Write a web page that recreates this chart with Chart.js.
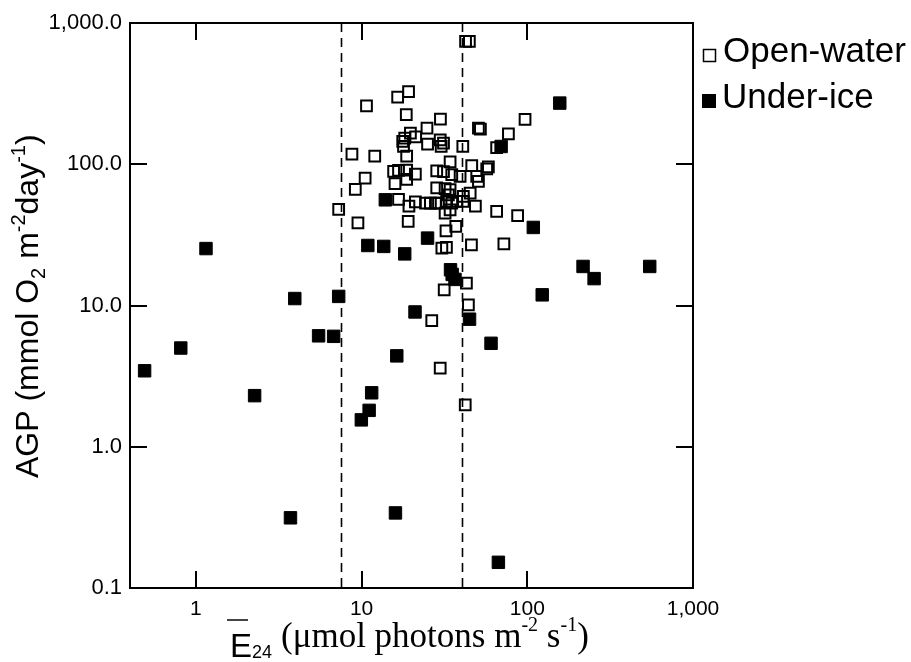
<!DOCTYPE html>
<html>
<head>
<meta charset="utf-8">
<script src="https://cdn.jsdelivr.net/npm/chart.js@4.4.0/dist/chart.umd.min.js"></script>
<style>
  html, body { margin: 0; padding: 0; background: #fff; }
</style>
</head>
<body>
<canvas id="agp" width="911" height="662"></canvas>
<script>
// E24 (µmol photons m-2 s-1) vs AGP (mmol O2 m-2 day-1)
const OPEN_E24 = [42.4, 44.7, 19.2, 16.5, 10.7, 18.6, 29.9, 24.8, 50.7, 52.1, 96.9, 76.9, 65.3, 19.7, 18.2, 17.7,
  17.9, 21.2, 25.0, 29.8, 31.2, 30.2, 40.8, 8.74, 12.0, 18.7, 34.2, 10.5, 9.16, 15.6, 16.7, 18.7, 21.1, 18.7,
  15.9, 28.4, 31.2, 35.0, 39.3, 46.2, 49.5, 56.9, 58.2, 50.7, 28.4, 31.9, 34.2, 33.4, 41.1, 45.2, 16.7, 19.3,
  21.1, 24.3, 26.0, 27.9, 29.1, 32.6, 35.0, 37.5, 41.1, 48.6, 31.9, 34.2, 65.3, 87.4, 7.27, 9.50, 19.1, 32.3,
  37.0, 30.5, 32.5, 46.0, 72.2, 31.5, 42.9, 44.1, 26.5, 29.8, 42.2];
const OPEN_AGP = [740, 740, 327, 299, 259, 225, 209, 180, 180, 177, 208, 164, 131, 166, 153, 145,
  134, 156, 139, 149, 141, 134, 134, 118, 114, 114, 104, 79.8, 66.3, 88.9, 90.4, 90.7, 85.0, 78.3,
  72.8, 89.9, 88.5, 84.3, 82.0, 97.6, 82.0, 92.9, 96.0, 75.5, 67.9, 67.3, 66.0, 60.8, 59.2, 62.5, 56.5, 50.6,
  54.1, 53.0, 53.1, 53.1, 53.1, 54.5, 53.1, 54.5, 54.5, 50.6, 45.1, 47.6, 46.3, 43.2, 47.9, 38.4, 39.4, 33.8,
  36.3, 25.5, 25.8, 26.9, 27.3, 12.9, 14.4, 10.1, 7.80, 3.61, 1.98];

const ICE_E24 = [0.49, 0.81, 1.15, 2.26, 3.95, 7.27, 5.5, 6.78, 3.72, 10.9, 13.6, 18.2, 16.3, 11.5, 11.1, 9.96,
  21.0, 13.9, 25.0, 34.4, 36.6, 35.2, 108.7, 69.5, 157, 217, 253, 123, 548, 44.8, 60.4, 16.0, 66.9];
const ICE_AGP = [3.45, 5.0, 25.3, 2.3, 11.2, 11.6, 6.1, 6.05, 0.314, 26.6, 26.2, 23.2, 4.4, 2.41, 1.81, 1.55,
  9.0, 56, 30, 17.9, 15.3, 16.6, 35.7, 133.6, 271, 18.9, 15.5, 11.9, 18.9, 8.0, 5.4, 0.34, 0.152];

const X_TICKS = [1, 10, 100, 1000];
const X_TICK_LABELS = ['1', '10', '100', '1,000'];
const Y_TICKS = [0.1, 1, 10, 100, 1000];
const Y_TICK_LABELS = ['0.1', '1.0', '10.0', '100.0', '1,000.0'];
const DASH_E24 = [7.5, 40.5];
const SERIES_NAMES = ['Open-water', 'Under-ice'];

const SANS = '"Liberation Sans", Arial, sans-serif';
const SERIF = '"Liberation Serif", "Times New Roman", serif';
const TICK = 17;

const pts = (xs, ys) => xs.map((x, i) => ({ x, y: ys[i] }));

// outer box + inward tick marks on all four sides
const frame = {
  id: 'frame',
  afterDatasetsDraw(chart) {
    const { ctx, chartArea: a, scales: { x, y } } = chart;
    ctx.save();
    ctx.strokeStyle = '#000';
    ctx.lineWidth = 2;
    ctx.strokeRect(a.left, a.top, a.width, a.height);
    ctx.beginPath();
    X_TICKS.forEach(v => {
      const px = Math.round(x.getPixelForValue(v));
      if (px <= a.left + 1 || px >= a.right - 1) return;
      ctx.moveTo(px, a.bottom); ctx.lineTo(px, a.bottom - TICK);
      ctx.moveTo(px, a.top); ctx.lineTo(px, a.top + TICK);
    });
    Y_TICKS.forEach(v => {
      const py = Math.round(y.getPixelForValue(v));
      if (py <= a.top + 1 || py >= a.bottom - 1) return;
      ctx.moveTo(a.left, py); ctx.lineTo(a.left + TICK, py);
      ctx.moveTo(a.right, py); ctx.lineTo(a.right - TICK, py);
    });
    ctx.stroke();
    ctx.restore();
  }
};

const dashes = {
  id: 'dashes',
  beforeDatasetsDraw(chart) {
    const { ctx, chartArea: a, scales: { x } } = chart;
    ctx.save();
    ctx.strokeStyle = '#000';
    ctx.lineWidth = 1.6;
    ctx.setLineDash([9, 6]);
    DASH_E24.forEach(v => {
      const px = Math.round(x.getPixelForValue(v)) + 0.5;
      ctx.beginPath();
      ctx.moveTo(px, a.top);
      ctx.lineTo(px, a.bottom);
      ctx.stroke();
    });
    ctx.restore();
  }
};

// draws a run of [text, font, dy] pieces from (x, y) along the baseline
function runText(ctx, x, y, parts) {
  parts.forEach(([t, font, dy]) => {
    ctx.font = font;
    ctx.fillText(t, x, y + dy);
    x += ctx.measureText(t).width;
  });
}

const titles = {
  id: 'titles',
  afterDraw(chart) {
    const ctx = chart.ctx;
    ctx.save();
    ctx.fillStyle = '#000';
    ctx.textBaseline = 'alphabetic';
    ctx.textAlign = 'left';

    // y title, rotated
    ctx.save();
    ctx.translate(38, 478);
    ctx.rotate(-Math.PI / 2);
    const big = '32px ' + SANS, sm = '20px ' + SANS;
    runText(ctx, 0, 0, [
      ['AGP (mmol O', big, 0], ['2', sm, 7], [' m', big, 0], ['-2', sm, -13],
      ['day', big, 0], ['-1', sm, -13], [')', big, 0]
    ]);
    ctx.restore();

    // x title: mean E24 with overbar
    ctx.font = '33px ' + SANS;
    ctx.fillText('E', 230, 657);
    ctx.font = '18px ' + SANS;
    ctx.fillText('24', 252, 658);
    ctx.fillStyle = '#444';
    ctx.fillRect(227, 619, 21, 2);
    ctx.fillStyle = '#000';
    const sb = '35px ' + SERIF, ss = '20px ' + SERIF;
    runText(ctx, 281, 647, [
      ['(\u03bcmol photons m', sb, 0], ['-2', ss, -16], [' s', sb, 0], ['-1', ss, -16], [')', sb, 0]
    ]);

    // legend
    ctx.font = '35px ' + SANS;
    ctx.lineWidth = 1.5;
    ctx.strokeStyle = '#000';
    ctx.strokeRect(703.5, 49.5, 12, 12);
    ctx.fillText(SERIES_NAMES[0], 723, 62);
    ctx.fillRect(702, 94, 14, 14);
    ctx.fillText(SERIES_NAMES[1], 722, 108);
    ctx.restore();
  }
};

new Chart(document.getElementById('agp'), {
  type: 'scatter',
  data: {
    datasets: [
      {
        label: SERIES_NAMES[1], data: pts(ICE_E24, ICE_AGP),
        pointStyle: 'rect', pointRadius: 8.8, backgroundColor: '#000', borderColor: '#000', borderWidth: 1
      },
      {
        label: SERIES_NAMES[0], data: pts(OPEN_E24, OPEN_AGP),
        pointStyle: 'rect', pointRadius: 7.6, backgroundColor: 'rgba(0,0,0,0)', borderColor: '#000', borderWidth: 2
      }
    ]
  },
  options: {
    responsive: false,
    animation: false,
    events: [],
    layout: { padding: { left: 0, top: 23, right: 218, bottom: 0 } },
    plugins: { legend: { display: false }, tooltip: { enabled: false } },
    scales: {
      x: {
        type: 'logarithmic', min: 0.4, max: 1000,
        afterBuildTicks: s => { s.ticks = X_TICKS.map(v => ({ value: v })); },
        afterFit: s => { s.height = 74; },
        grid: { display: false, drawTicks: false },
        border: { display: false },
        ticks: {
          autoSkip: false, maxRotation: 0, padding: 9, color: '#000',
          font: { family: SANS, size: 21 },
          callback: (v, i) => X_TICK_LABELS[i]
        }
      },
      y: {
        type: 'logarithmic', min: 0.1, max: 1000,
        afterBuildTicks: s => { s.ticks = Y_TICKS.map(v => ({ value: v })); },
        afterFit: s => { s.width = 130; },
        grid: { display: false, drawTicks: false },
        border: { display: false },
        ticks: {
          autoSkip: false, padding: 8, color: '#000',
          font: { family: SANS, size: 22 },
          callback: (v, i) => Y_TICK_LABELS[i]
        }
      }
    }
  },
  plugins: [dashes, frame, titles]
});
</script>
</body>
</html>
